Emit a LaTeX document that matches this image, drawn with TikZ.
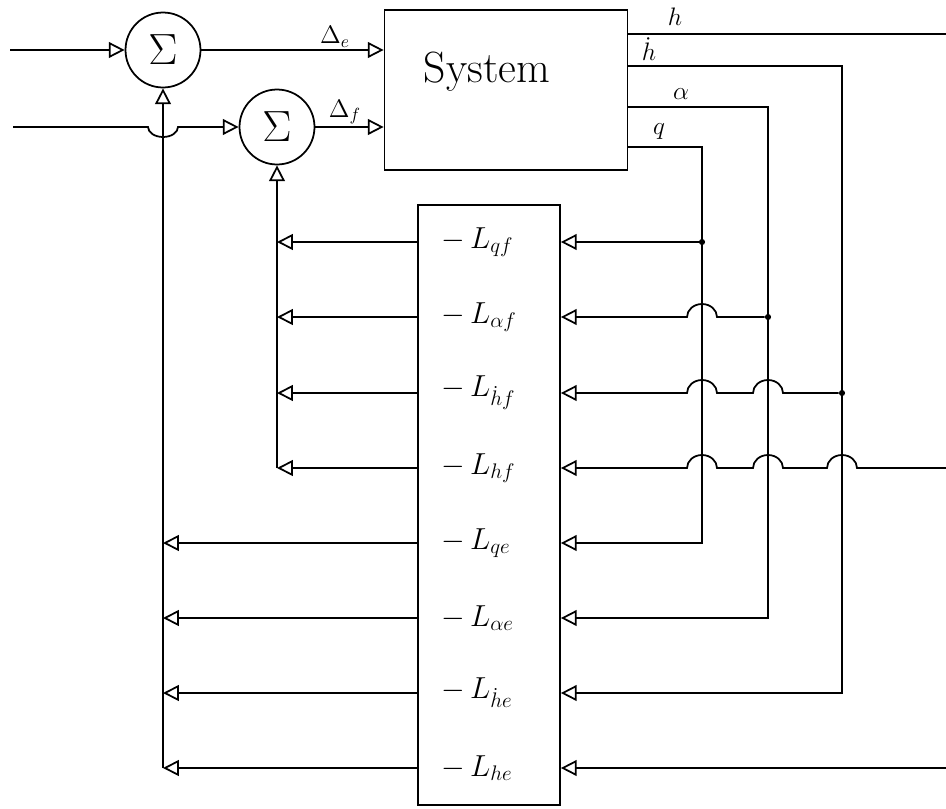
\documentclass[tikz,border=0pt]{standalone}
\usepackage{amsmath}
\usepackage{tikz}
\usetikzlibrary{
    arrows.meta,
    positioning,
    calc
}
\tikzset{
    sum node/.style={
        circle, draw, line width=1pt,
        minimum size=1.5cm, inner sep=0pt,
        font=\fontsize{30}{32}\selectfont
    },
    system box/.style={
        rectangle, draw, line width=1pt,
        minimum width=4.86cm, minimum height=3.2cm
    },
    gain box/.style={
        rectangle, draw, line width=1pt,
        minimum width=2.84cm, minimum height=12cm
    },
    gain label/.style={
        anchor=west, inner sep=0pt, font=\LARGE
    },
    signal label/.style={
        inner sep=1pt, font=\Large
    },
    wire/.style={
        line width=1pt
    },
    feed/.style={
        -{Triangle[open, length=9pt, width=9pt]}, line width=1pt
    },
    junction/.style={
        circle, fill, inner sep=0pt, minimum size=3.5pt
    },
}

\begin{document}
\begin{tikzpicture}[x=0.02cm, y=-0.02cm]
    \useasboundingbox (0,0) rectangle (946,808);

    % Summing junctions and plant
    \node[sum node] (sume) at (163,50) {$\Sigma$};
    \node[sum node] (sumf) at (277,127) {$\Sigma$};
    \node[system box] (sys) at (506,90) {};
    \node[font=\Huge] (systitle) at (487,72) {System};

    % Gain block
    \node[gain box] (gain) at (489,505) {};
    \node[gain label] (Lqf)  at (441,242) {$-\,L_{qf}$};
    \node[gain label] (Laf)  at (441,317) {$-\,L_{\alpha f}$};
    \node[gain label] (Lhdf) at (441,393) {$-\,L_{\dot h f}$};
    \node[gain label] (Lhf)  at (441,468) {$-\,L_{hf}$};
    \node[gain label] (Lqe)  at (441,543) {$-\,L_{qe}$};
    \node[gain label] (Lae)  at (441,618) {$-\,L_{\alpha e}$};
    \node[gain label] (Lhde) at (441,693) {$-\,L_{\dot h e}$};
    \node[gain label] (Lhe)  at (441,768) {$-\,L_{he}$};

    % Inputs
    \coordinate (in1) at (10,50);
    \coordinate (in2) at (13,127);
    \draw[feed] (in1) -- (sume.west);
    \draw[feed] (in2) -- ($(sume.south |- sumf.west)+(-15,0)$)
        arc[start angle=180, end angle=0, x radius=15, y radius=10] -- (sumf.west);
    \draw[feed] (sume.east) -- (sys.west |- sume.east);
    \draw[feed] (sumf.east) -- (sys.west |- sumf.east);
    \node[signal label] (De) at (335,37) {$\Delta_e$};
    \node[signal label] (Df) at (345,112) {$\Delta_f$};

    % Plant outputs
    \coordinate (hv)  at (946,34);
    \coordinate (hdv) at (842,66);
    \coordinate (av)  at (768,107);
    \coordinate (qv)  at (702,147);
    \node[signal label] (hlab)  at (675,17) {$h$};
    \node[signal label] (hdlab) at (649,49) {$\dot h$};
    \node[signal label] (alab)  at (681,94) {$\alpha$};
    \node[signal label] (qlab)  at (659,132) {$q$};

    \draw[wire] (sys.east |- hv) -- (hv);
    \draw[feed] (sys.east |- hdv) -- (hdv) -- (hdv |- Lhde.west) -- (gain.east |- Lhde.west);
    \draw[feed] (sys.east |- av) -- (av) -- (av |- Lae.west) -- (gain.east |- Lae.west);
    \draw[feed] (sys.east |- qv) -- (qv) -- (qv |- Lqe.west) -- (gain.east |- Lqe.west);
    \draw[feed] (hv |- Lhe.west) -- (gain.east |- Lhe.west);

    % Branches to the f gains
    \node[junction] (jq)  at (qv |- Lqf.west) {};
    \node[junction] (ja)  at (av |- Laf.west) {};
    \node[junction] (jhd) at (hdv |- Lhdf.west) {};
    \draw[feed] (jq) -- (gain.east |- jq);
    \draw[feed] (ja) -- ($(qv |- ja)+(15,0)$)
        arc[start angle=0, end angle=-180, x radius=15, y radius=13] -- (gain.east |- ja);
    \draw[feed] (jhd) -- ($(av |- jhd)+(15,0)$)
        arc[start angle=0, end angle=-180, x radius=15, y radius=13]
        -- ($(qv |- jhd)+(15,0)$)
        arc[start angle=0, end angle=-180, x radius=15, y radius=13] -- (gain.east |- jhd);
    \draw[feed] (hv |- Lhf.west) -- ($(hdv |- Lhf.west)+(15,0)$)
        arc[start angle=0, end angle=-180, x radius=15, y radius=13]
        -- ($(av |- Lhf.west)+(15,0)$)
        arc[start angle=0, end angle=-180, x radius=15, y radius=13]
        -- ($(qv |- Lhf.west)+(15,0)$)
        arc[start angle=0, end angle=-180, x radius=15, y radius=13] -- (gain.east |- Lhf.west);

    % Feedback to the summing junctions
    \draw[feed] (gain.west |- Lqf.west) -- (sumf.south |- Lqf.west);
    \draw[feed] (gain.west |- Laf.west) -- (sumf.south |- Laf.west);
    \draw[feed] (gain.west |- Lhdf.west) -- (sumf.south |- Lhdf.west);
    \draw[feed] (gain.west |- Lhf.west) -- (sumf.south |- Lhf.west);
    \draw[feed] (sumf.south |- Lhf.west) -- (sumf.south);
    \draw[feed] (gain.west |- Lqe.west) -- (sume.south |- Lqe.west);
    \draw[feed] (gain.west |- Lae.west) -- (sume.south |- Lae.west);
    \draw[feed] (gain.west |- Lhde.west) -- (sume.south |- Lhde.west);
    \draw[feed] (gain.west |- Lhe.west) -- (sume.south |- Lhe.west);
    \draw[feed] (sume.south |- Lhe.west) -- (sume.south);
\end{tikzpicture}
\end{document}
